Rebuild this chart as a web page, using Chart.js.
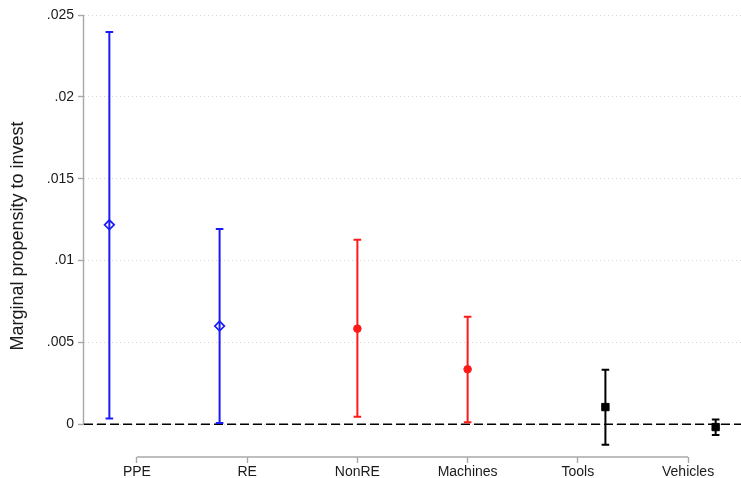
<!DOCTYPE html>
<html>
<head>
<meta charset="utf-8">
<script src="https://cdn.jsdelivr.net/npm/chart.js@4/dist/chart.umd.min.js"></script>
<style>
  html, body { margin: 0; padding: 0; background: #fff; }
  #wrap { width: 741px; height: 478px; position: relative; }
</style>
</head>
<body>
<div id="wrap"><canvas id="c"></canvas></div>
<script>
// Asset categories on the horizontal axis
const categories = ['PPE', 'RE', 'NonRE', 'Machines', 'Tools', 'Vehicles'];
// Point estimates of the marginal propensity to invest
const estimates = [0.01218, 0.00600, 0.00584, 0.00336, 0.00105, -0.00017];
// Confidence interval bounds
const lowerBounds = [0.00035, 0.00008, 0.00046, 0.00013, -0.00125, -0.00065];
const upperBounds = [0.02396, 0.01192, 0.01127, 0.00656, 0.00333, 0.00029];
// Which series (colour group) each category belongs to
const seriesOf = [0, 0, 1, 1, 2, 2];
// Y-axis tick values and their labels
const yTickValues = [0, 0.005, 0.01, 0.015, 0.02, 0.025];
const yTickLabels = ['0', '.005', '.01', '.015', '.02', '.025'];

// Series styling: colour, marker and horizontal slot within a category
const seriesStyle = [
  { color: '#1a1aff', marker: 'rectRot', radius: 4.8, fill: 'rgba(255,255,255,0)', border: 1.7, slot: -0.25 },
  { color: '#ff1a1a', marker: 'circle',  radius: 3.8, fill: '#ff1a1a',            border: 1,   slot: 0 },
  { color: '#000000', marker: 'rect',    radius: 5.2, fill: '#000000',            border: 1,   slot: 0.25 }
];

const datasets = seriesStyle.map((s, k) => ({
  data: categories
    .map((c, i) => ({ x: i + s.slot, y: estimates[i], lo: lowerBounds[i], hi: upperBounds[i], i }))
    .filter(p => seriesOf[p.i] === k),
  showLine: false,
  pointStyle: s.marker,
  pointRadius: s.radius,
  pointHoverRadius: s.radius,
  pointBackgroundColor: s.fill,
  pointBorderColor: s.color,
  pointBorderWidth: s.border,
  errColor: s.color
}));

const FONT = '"Liberation Sans", Arial, Helvetica, sans-serif';
const AXIS_GREY = '#a8a8a8';

// Reference line at zero, axis lines and confidence-interval whiskers
const decorations = {
  id: 'decorations',
  beforeDatasetsDraw(chart) {
    const { ctx, chartArea, scales: { x, y } } = chart;
    ctx.save();
    // y axis line spans the labelled range only
    ctx.strokeStyle = AXIS_GREY;
    ctx.lineWidth = 1.4;
    ctx.beginPath();
    ctx.moveTo(chartArea.left - 0.5, y.getPixelForValue(yTickValues[yTickValues.length - 1]));
    ctx.lineTo(chartArea.left - 0.5, y.getPixelForValue(yTickValues[0]));
    ctx.stroke();
    // x axis line between first and last category
    ctx.beginPath();
    ctx.moveTo(x.getPixelForValue(0), chartArea.bottom);
    ctx.lineTo(x.getPixelForValue(categories.length - 1), chartArea.bottom);
    ctx.stroke();
    // dashed zero line
    const y0 = y.getPixelForValue(0);
    ctx.strokeStyle = '#000';
    ctx.lineWidth = 1.3;
    ctx.setLineDash([9, 4]);
    ctx.beginPath();
    ctx.moveTo(chartArea.left, y0);
    ctx.lineTo(chartArea.right, y0);
    ctx.stroke();
    ctx.setLineDash([]);
    // whiskers with caps
    chart.data.datasets.forEach((ds, di) => {
      const meta = chart.getDatasetMeta(di);
      ctx.strokeStyle = ds.errColor;
      ctx.lineWidth = 2;
      meta.data.forEach((pt, j) => {
        const raw = ds.data[j];
        const px = pt.x;
        const yl = y.getPixelForValue(raw.lo);
        const yh = y.getPixelForValue(raw.hi);
        ctx.beginPath();
        ctx.moveTo(px, yl);
        ctx.lineTo(px, yh);
        ctx.moveTo(px - 3.8, yl);
        ctx.lineTo(px + 3.8, yl);
        ctx.moveTo(px - 3.8, yh);
        ctx.lineTo(px + 3.8, yh);
        ctx.stroke();
      });
    });
    ctx.restore();
  }
};

new Chart(document.getElementById('c'), {
  type: 'scatter',
  data: { datasets },
  plugins: [decorations],
  options: {
    responsive: true,
    maintainAspectRatio: false,
    animation: false,
    layout: { autoPadding: false, padding: { top: 15, right: 0, bottom: 0, left: 0 } },
    plugins: { legend: { display: false }, tooltip: { enabled: false } },
    scales: {
      x: {
        type: 'linear',
        min: -0.48,
        max: categories.length - 1 + 0.48,
        afterBuildTicks: s => { s.ticks = categories.map((c, i) => ({ value: i })); },
        afterFit: s => { s.height = 21; s.paddingLeft = 0; s.paddingRight = 0; },
        border: { display: false },
        grid: { drawOnChartArea: false, drawTicks: true, tickLength: 6, tickColor: AXIS_GREY, tickWidth: 1.4 },
        ticks: {
          autoSkip: false, maxRotation: 0, padding: 1,
          color: '#1a1a1a',
          font: { family: FONT, size: 14 },
          callback: v => categories[v]
        }
      },
      y: {
        min: -0.002,
        max: 0.025,
        afterBuildTicks: s => { s.ticks = yTickValues.map(v => ({ value: v })); },
        afterFit: s => { s.width = 84; },
        border: { display: false, dash: [1, 3] },
        grid: { color: '#d4d4d4', lineWidth: 1, drawTicks: true, tickLength: 6, tickColor: AXIS_GREY, tickWidth: 1.4, tickBorderDash: [] },
        ticks: {
          padding: 4,
          color: '#1a1a1a',
          font: { family: FONT, size: 14 },
          callback: v => { const k = yTickValues.indexOf(v); return k >= 0 ? yTickLabels[k] : ''; }
        },
        title: {
          display: true,
          text: 'Marginal propensity to invest',
          color: '#1a1a1a',
          font: { family: FONT, size: 18 },
          padding: { top: 7, bottom: 0 }
        }
      }
    }
  }
});
</script>
</body>
</html>
